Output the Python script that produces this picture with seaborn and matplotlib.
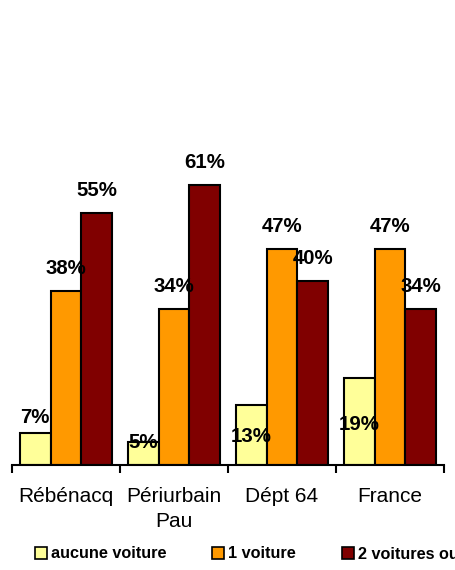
import matplotlib
matplotlib.use("Agg")
import matplotlib.pyplot as plt
from matplotlib.patches import Patch
import pandas as pd
import seaborn as sns

# Car ownership of households, by area (share of households, %)
zones = ["Rébénacq", "Périurbain\nPau", "Dépt 64", "France"]
series = ["aucune voiture", "1 voiture", "2 voitures ou plus"]
aucune = [7, 5, 13, 19]
une = [38, 34, 47, 47]
deux_plus = [55, 61, 40, 34]

colors = ["#FFFF99", "#FF9900", "#800000"]
# baseline of each value label relative to its bar top, in pixels
label_offsets = [[10, -6, -37, -52], [17, 17, 17, 17], [17, 17, 17, 17]]

values = [aucune, une, deux_plus]
df = pd.DataFrame(
    [{"zone": z, "serie": s, "pct": v}
     for s, vals in zip(series, values) for z, v in zip(zones, vals)]
)

sns.set_theme(style="white")
plt.rcParams["font.family"] = ["Liberation Sans", "DejaVu Sans"]
plt.rcParams["text.color"] = "black"

fig = plt.figure(figsize=(4.55, 5.70), dpi=100)
ax = fig.add_axes([12 / 455, 105 / 570, 432 / 455, 335 / 570])

sns.barplot(data=df, x="zone", y="pct", hue="serie", order=zones,
            hue_order=series, palette=colors, saturation=1, width=0.86,
            gap=0, edgecolor="black", linewidth=1.5, errorbar=None,
            legend=False, ax=ax)

for i, vals in enumerate(values):
    for j, v in enumerate(vals):
        bar = ax.containers[i][j]
        xc = bar.get_x() + bar.get_width() / 2
        ax.annotate(f"{v}%", (xc, v), xytext=(0, label_offsets[i][j] * 0.72),
                    textcoords="offset points", ha="center", va="baseline",
                    fontsize=14.7, fontweight="bold", color="black")

ax.set_xlim(-0.5, 3.5)
ax.set_ylim(0, 335 / 4.59)
ax.set_yticks([])
ax.set_xlabel("")
ax.set_ylabel("")
for side in ("left", "top", "right"):
    ax.spines[side].set_visible(False)
ax.spines["bottom"].set_color("black")
ax.spines["bottom"].set_linewidth(1.5)

ax.set_xticks(range(len(zones)))
ax.set_xticklabels(zones, fontsize=15, linespacing=1.4, color="black")
ax.tick_params(axis="x", which="major", length=0, pad=15.5)
ax.set_xticks([k - 0.5 for k in range(len(zones) + 1)], minor=True)
ax.tick_params(axis="x", which="minor", length=5.8, width=1.5,
               direction="out", color="black", bottom=True)

handles = [Patch(facecolor=c, edgecolor="black", linewidth=1.2) for c in colors]
fig.legend(handles, series, loc="center left",
           bbox_to_anchor=(35 / 455, 1 - 554 / 570), ncol=3, frameon=False,
           borderpad=0, borderaxespad=0, handlelength=0.75, handleheight=0.75,
           handletextpad=0.25, columnspacing=2.8, labelcolor="black",
           prop={"weight": "bold", "size": 11.7})

fig.savefig("out.png", dpi=100)
